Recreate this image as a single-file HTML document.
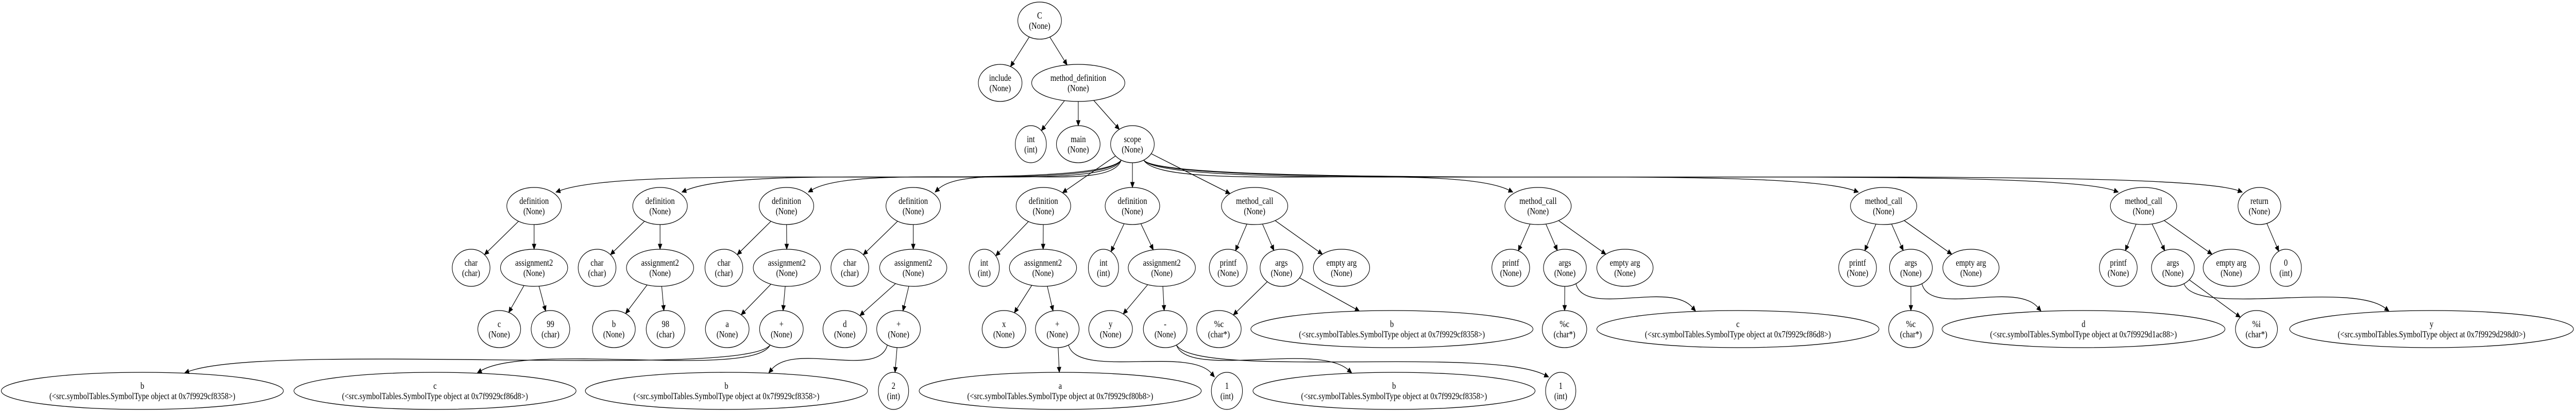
<!DOCTYPE html>
<html><head><meta charset="utf-8"><style>
html,body{margin:0;padding:0;background:#fff;width:100%;height:100%;overflow:hidden}
svg{display:block;position:fixed;left:0;top:0;width:100vw;height:100vh}
text{font-family:"Liberation Serif",serif;font-size:18px;fill:#000;text-anchor:middle}
</style></head><body>
<svg id="g" viewBox="0 0 6135 800" preserveAspectRatio="none" xmlns="http://www.w3.org/2000/svg">
<g id="edges"></g><g id="nodes"></g>
</svg>
<script>
var S=' (<src.symbolTables.SymbolType object at 0x7f9929';
var L=[40,161,280,400,520,639,759];
var N={};
function n(id,cx,lv,rx,a,b){N[id]={cx:cx,cy:L[lv],rx:rx,ry:36,a:a,b:b};}
n('C',2476,0,52,'C','(None)');
n('inc',2382,1,52,'include','(None)');
n('md',2568,1,111,'method_definition','(None)');
n('int0',2455,2,37,'int','(int)');
n('main',2568,2,52,'main','(None)');
n('scope',2697,2,52,'scope','(None)');
var defs=[['A',1272],['B',1572],['Cd',1873],['D',2175],['E',2485],['F',2697]];
defs.forEach(function(d){n('d'+d[0],d[1],3,65,'definition','(None)');});
n('mc1',2988,3,79,'method_call','(None)');
n('mc2',3663,3,79,'method_call','(None)');
n('mc3',4486,3,79,'method_call','(None)');
n('mc4',5105,3,79,'method_call','(None)');
n('ret',5381,3,51,'return','(None)');
n('chA',1122,4,45,'char','(char)');n('asA',1272,4,80,'assignment2','(None)');
n('chB',1422,4,45,'char','(char)');n('asB',1572,4,80,'assignment2','(None)');
n('chCd',1724,4,45,'char','(char)');n('asCd',1874,4,80,'assignment2','(None)');
n('chD',2024,4,45,'char','(char)');n('asD',2175,4,80,'assignment2','(None)');
n('chE',2344,4,36,'int','(int)');n('asE',2484,4,80,'assignment2','(None)');
n('chF',2628,4,36,'int','(int)');n('asF',2767,4,80,'assignment2','(None)');
var mcs=[['1',2925,3052,3195],['2',3598,3727,3870],['3',4424,4551,4694],['4',5045,5175,5314]];
mcs.forEach(function(m){n('pr'+m[0],m[1],4,45,'printf','(None)');n('ar'+m[0],m[2],4,51,'args','(None)');n('em'+m[0],m[3],4,67,'empty arg','(None)');});
n('zero',5444,4,37,'0','(int)');
n('c5',1189,5,51,'c','(None)');n('n99',1311,5,46,'99','(char)');
n('b5',1462,5,51,'b','(None)');n('n98',1585,5,46,'98','(char)');
n('a5',1732,5,52,'a','(None)');n('plC',1861,5,52,'+','(None)');
n('d5',2012,5,52,'d','(None)');n('plD',2140,5,52,'+','(None)');
n('x5',2391,5,52,'x','(None)');n('plE',2518,5,52,'+','(None)');
n('y5',2645,5,52,'y','(None)');n('mi',2775,5,52,'-','(None)');
n('pc1',2903,5,53,'%c','(char*)');n('B1',3315,5,336,'b',S+'cf8358>)');
n('pc2',3726,5,53,'%c','(char*)');n('C1',4139,5,336,'c',S+'cf86d8>)');
n('pc3',4551,5,53,'%c','(char*)');n('D1',4962,5,337,'d',S+'d1ac88>)');
n('pi',5374,5,50,'%i','(char*)');n('Y1',5791,5,338,'y',S+'d298d0>)');
n('Bb',339,6,336,'b',S+'cf8358>)');n('Cc',1036,6,336,'c',S+'cf86d8>)');
n('Bb2',1730,6,336,'b',S+'cf8358>)');n('two',2128,6,36,'2','(int)');
n('Aa',2525,6,336,'a',S+'cf80b8>)');n('one',2922,6,37,'1','(int)');
n('Bb3',3320,6,336,'b',S+'cf8358>)');n('one2',3717,6,36,'1','(int)');
var E=[['C','inc'],['C','md'],['md','int0'],['md','main'],['md','scope'],
['scope','dA'],['scope','dB'],['scope','dCd'],['scope','dD'],['scope','dE'],['scope','dF'],
['scope','mc1'],['scope','mc2'],['scope','mc3'],['scope','mc4'],['scope','ret'],
['asA','c5'],['asA','n99'],['asB','b5'],['asB','n98'],['asCd','a5'],['asCd','plC'],
['asD','d5'],['asD','plD'],['asE','x5'],['asE','plE'],['asF','y5'],['asF','mi'],
['plC','Bb'],['plC','Cc'],['plD','Bb2'],['plD','two'],['plE','Aa'],['plE','one'],['mi','Bb3'],['mi','one2'],
['ar1','pc1'],['ar1','B1'],['ar2','pc2'],['ar2','C1'],['ar3','pc3'],['ar3','D1'],['ar4','pi'],['ar4','Y1'],['ret','zero']];
defs.forEach(function(d){E.push(['d'+d[0],'ch'+d[0]]);E.push(['d'+d[0],'as'+d[0]]);});
mcs.forEach(function(m){E.push(['mc'+m[0],'pr'+m[0]]);E.push(['mc'+m[0],'ar'+m[0]]);E.push(['mc'+m[0],'em'+m[0]]);});
function clip(nd,tx,ty){var dx=tx-nd.cx,dy=ty-nd.cy;var t=1/Math.sqrt((dx/nd.rx)*(dx/nd.rx)+(dy/nd.ry)*(dy/nd.ry));return [nd.cx+dx*t,nd.cy+dy*t];}
var ns='http://www.w3.org/2000/svg',eg=document.getElementById('edges'),ng=document.getElementById('nodes');
function el(t,at,p){var e=document.createElementNS(ns,t);for(var k in at)e.setAttribute(k,at[k]);p.appendChild(e);return e;}
E.forEach(function(e){var p=N[e[0]],c=N[e[1]];var dx=c.cx-p.cx,dy=c.cy-p.cy;var P0,P3,C2,d,tx,ty,l,B;
 if(Math.abs(dx)>2.5*Math.abs(dy)){
  var s=dx>0?1:-1;
  P0=clip(p,p.cx+s*p.rx*0.6,p.cy+p.ry);
  var ax=c.cx-s*Math.min(c.rx*0.8,60),ay=c.cy-c.ry*0.75;
  if(c.rx>200){ax=c.cx-s*c.rx*0.3;ay=c.cy-c.ry*0.97;}
  P3=[ax,ay];
  var C1=[P0[0]+s*Math.min(Math.abs(dx)*0.05,60),P0[1]+dy*0.55];
  C2=[P3[0]-s*Math.min(Math.abs(dx)*0.15,200),P3[1]-dy*0.5];
  tx=P3[0]-C2[0];ty=P3[1]-C2[1];l=Math.hypot(tx,ty);tx/=l;ty/=l;
  B=[P3[0]-tx*10,P3[1]-ty*10];
  d='M'+P0[0]+','+P0[1]+' C'+C1[0]+','+C1[1]+' '+C2[0]+','+C2[1]+' '+B[0]+','+B[1];
 }else{
  P0=clip(p,c.cx,c.cy);P3=clip(c,p.cx,p.cy);
  tx=P3[0]-P0[0];ty=P3[1]-P0[1];l=Math.hypot(tx,ty);tx/=l;ty/=l;
  B=[P3[0]-tx*10,P3[1]-ty*10];
  d='M'+P0[0]+','+P0[1]+' L'+B[0]+','+B[1];
 }
 el('path',{d:d,fill:'none',stroke:'#000','stroke-width':1.3},eg);
 var px=-ty,py=tx;
 el('polygon',{points:P3[0]+','+P3[1]+' '+(B[0]+px*4.5)+','+(B[1]+py*4.5)+' '+(B[0]-px*4.5)+','+(B[1]-py*4.5),fill:'#000',stroke:'#000','stroke-width':1},eg);
});
for(var k in N){var q=N[k];
 el('ellipse',{cx:q.cx,cy:q.cy,rx:q.rx,ry:q.ry,fill:'none',stroke:'#000','stroke-width':1.3},ng);
 el('text',{x:q.cx,y:q.cy-4},ng).textContent=q.a;
 el('text',{x:q.cx,y:q.cy+16},ng).textContent=q.b;
}
</script>
</body></html>
